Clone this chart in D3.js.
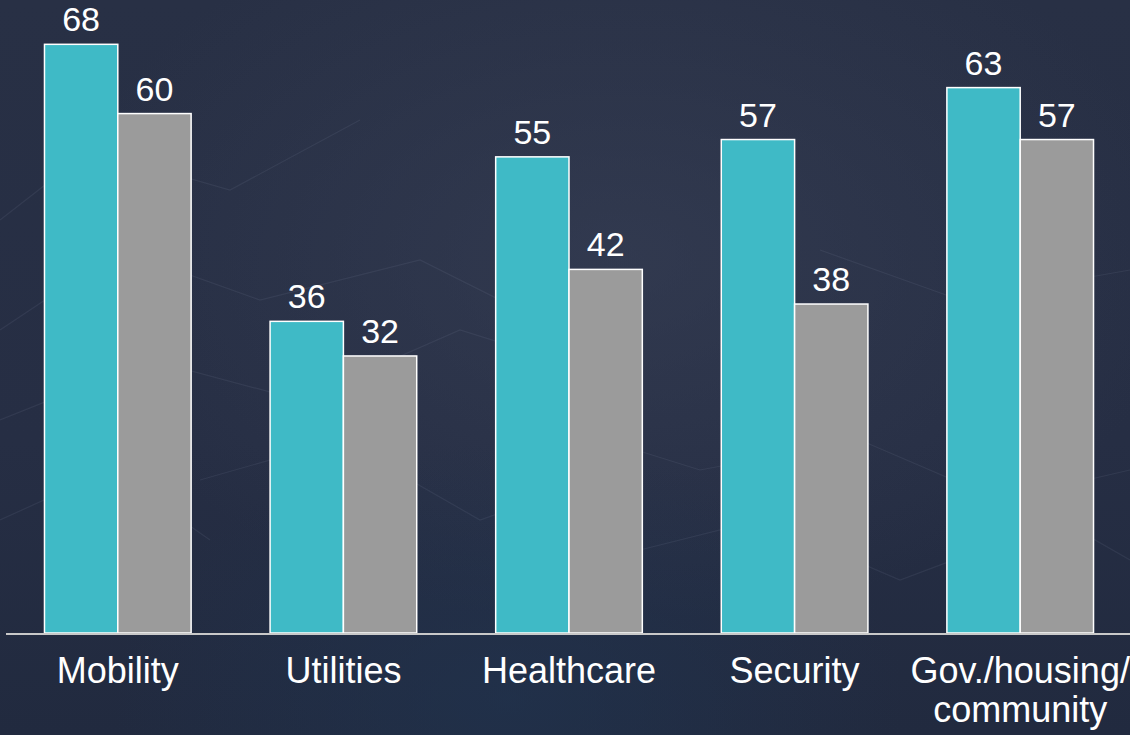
<!DOCTYPE html>
<html>
<head>
<meta charset="utf-8">
<script src="https://cdn.jsdelivr.net/npm/d3@7"></script>
<style>
  html, body { margin: 0; padding: 0; background: #252d42; }
  svg { display: block; }
</style>
</head>
<body>
<script>
const categories = ["Mobility", "Utilities", "Healthcare", "Security", "Gov./housing/\ncommunity"];
const seriesNames = ["A", "B"];
const seriesA = [68, 36, 55, 57, 63];
const seriesB = [60, 32, 42, 38, 57];
const colors = ["#3fbac6", "#9b9b9b"];

const W = 1130, H = 735;
const svg = d3.select("body").append("svg").attr("width", W).attr("height", H);

// background
const defs = svg.append("defs");
const lg = defs.append("linearGradient").attr("id", "bg").attr("x1", 0).attr("y1", 0).attr("x2", 0).attr("y2", 1);
lg.append("stop").attr("offset", "0%").attr("stop-color", "#283045");
lg.append("stop").attr("offset", "60%").attr("stop-color", "#262e44");
lg.append("stop").attr("offset", "100%").attr("stop-color", "#212a3f");
svg.append("rect").attr("width", W).attr("height", H).attr("fill", "url(#bg)");
const rg = defs.append("radialGradient").attr("id", "glow").attr("cx", 0.55).attr("cy", 0.35).attr("r", 0.5);
rg.append("stop").attr("offset", "0%").attr("stop-color", "#3a4258").attr("stop-opacity", 0.55);
rg.append("stop").attr("offset", "100%").attr("stop-color", "#3a4258").attr("stop-opacity", 0);
svg.append("rect").attr("width", W).attr("height", H).attr("fill", "url(#glow)");
const rg2 = defs.append("radialGradient").attr("id", "glow2").attr("cx", 0.45).attr("cy", 0.95).attr("r", 0.35);
rg2.append("stop").attr("offset", "0%").attr("stop-color", "#203450").attr("stop-opacity", 0.6);
rg2.append("stop").attr("offset", "100%").attr("stop-color", "#203450").attr("stop-opacity", 0);
svg.append("rect").attr("width", W).attr("height", H).attr("fill", "url(#glow2)");

// faint decorative network lines
const deco = svg.append("g").attr("stroke", "#8a94aa").attr("stroke-opacity", 0.12).attr("fill", "none").attr("stroke-width", 1.2);
[
  "M0,330 L120,250 L260,300 L420,260 L560,330",
  "M0,420 L150,360 L300,400 L460,330 L620,380",
  "M0,220 L90,150 L230,190 L360,120",
  "M540,420 L700,470 L860,440 L1000,500 L1130,470",
  "M600,560 L760,520 L900,580 L1060,520 L1130,560",
  "M200,480 L340,440 L480,520 L620,470",
  "M820,250 L960,300 L1130,270",
  "M0,520 L110,470 L210,540"
].forEach(p => deco.append("path").attr("d", p));

const y = d3.scaleLinear().domain([0, 70]).range([633, 27]);
const x0 = d3.scaleBand().domain(categories).range([5, 1133]).paddingInner(0.35).paddingOuter(0.175);
const x1 = d3.scaleBand().domain(seriesNames).range([0, x0.bandwidth()]);

const data = categories.map((c, i) => ({ cat: c, vals: [seriesA[i], seriesB[i]] }));

const g = svg.append("g");
const groups = g.selectAll("g.grp").data(data).join("g")
  .attr("transform", d => `translate(${x0(d.cat)},0)`);

groups.selectAll("rect").data(d => d.vals.map((v, j) => ({ v, s: seriesNames[j], j })))
  .join("rect")
  .attr("x", d => x1(d.s))
  .attr("y", d => y(d.v))
  .attr("width", x1.bandwidth())
  .attr("height", d => y(0) - y(d.v))
  .attr("fill", d => colors[d.j])
  .attr("stroke", "#ffffff")
  .attr("stroke-width", 1.5);

groups.selectAll("text.val").data(d => d.vals.map((v, j) => ({ v, s: seriesNames[j] })))
  .join("text")
  .attr("class", "val")
  .attr("x", d => x1(d.s) + x1.bandwidth() / 2)
  .attr("y", d => y(d.v) - 13)
  .attr("text-anchor", "middle")
  .attr("font-family", "Liberation Sans, Arial, sans-serif")
  .attr("font-size", 34)
  .attr("fill", "#ffffff")
  .text(d => d.v);

// axis line
svg.append("line")
  .attr("x1", 6).attr("x2", W)
  .attr("y1", y(0) + 1).attr("y2", y(0) + 1)
  .attr("stroke", "#c9c9c9").attr("stroke-width", 2);

// category labels
const catText = svg.selectAll("text.cat").data(categories).join("text")
  .attr("class", "cat")
  .attr("x", d => x0(d) + x0.bandwidth() / 2)
  .attr("y", 683)
  .attr("text-anchor", "middle")
  .attr("font-family", "Liberation Sans, Arial, sans-serif")
  .attr("font-size", 36)
  .attr("fill", "#ffffff");
catText.each(function(d) {
  const lines = d.split("\n");
  const t = d3.select(this);
  lines.forEach((ln, k) => {
    t.append("tspan").attr("x", x0(d) + x0.bandwidth() / 2).attr("dy", k === 0 ? 0 : 39).text(ln);
  });
});
</script>
</body>
</html>
